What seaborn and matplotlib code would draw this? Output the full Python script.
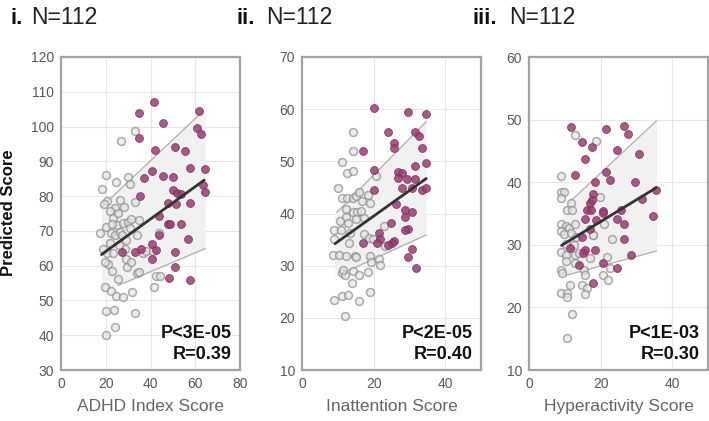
import numpy as np
import pandas as pd
import matplotlib
matplotlib.use("Agg")
import matplotlib.pyplot as plt
import seaborn as sns

sns.set_theme(style="white")
plt.rcParams['font.family'] = ['Liberation Sans', 'DejaVu Sans']

# ---------------- data ----------------
# Panel i: ADHD Index Score
p1_gray_x = [32.9, 27.0, 19.9, 18.5, 24.7, 29.9, 30.9, 20.6, 24.0, 26.5, 28.1, 21.7, 17.3, 20.0, 23.4,
             24.9, 27.6, 29.9, 30.7, 22.5, 24.0, 26.2, 27.4, 21.8, 28.4, 33.9, 34.8, 32.9, 20.6, 21.0,
             23.0, 25.6, 29.6, 28.9, 31.4, 19.6, 22.2, 24.7, 27.7, 31.7, 19.9, 23.7, 32.9, 19.9, 24.0,
             36.6, 38.0, 41.0, 34.0, 34.8, 41.4, 42.5, 44.1, 43.6, 18.8, 19.3, 25.5, 31.4, 23.3, 19.6,
             26.0, 29.0, 22.8]
p1_gray_y = [98.7, 95.9, 86.2, 82.0, 84.1, 85.5, 83.5, 78.6, 76.7, 79.0, 76.9, 75.7, 69.5, 71.2, 73.6,
             71.6, 72.3, 72.6, 70.7, 69.4, 68.8, 69.8, 68.7, 66.5, 64.7, 68.7, 73.1, 78.4, 63.5, 60.6,
             58.6, 56.3, 59.6, 62.0, 61.0, 53.8, 52.8, 51.4, 50.9, 52.4, 47.1, 47.3, 46.3, 40.1, 42.3,
             63.6, 64.1, 64.1, 57.8, 58.3, 54.0, 56.9, 57.0, 69.5, 64.7, 77.7, 75.1, 73.3, 63.5, 61.1,
             66.0, 67.5, 72.0]
p1_purple_x = [34.8, 41.5, 45.5, 34.8, 61.8, 60.6, 62.7, 51.0, 55.6, 41.8, 36.9, 40.7, 45.5, 50.1, 57.6,
               64.4, 35.4, 50.1, 52.0, 53.6, 57.8, 63.6, 64.4, 47.7, 51.3, 43.9, 47.7, 48.7, 53.6, 56.6,
               43.7, 40.7, 27.1, 32.9, 35.6, 42.5, 40.7, 51.0, 51.0, 48.4, 57.6]
p1_purple_y = [103.8, 107.2, 101.0, 96.8, 104.6, 99.7, 97.8, 94.2, 93.0, 93.3, 85.3, 87.2, 85.8, 85.6, 88.2,
               87.7, 80.1, 81.8, 80.9, 80.5, 77.9, 83.1, 81.3, 78.1, 77.7, 74.4, 71.9, 71.9, 71.9, 67.8,
               68.7, 66.3, 63.9, 63.8, 64.9, 64.6, 62.0, 63.8, 59.6, 56.5, 55.8]
p1_fit_x = [18.1, 64.0]
p1_fit_y = [63.2, 84.6]
p1_up_x = [18.1, 62.5]
p1_up_y = [76.9, 103.8]
p1_lo_x = [25.5, 64.4]
p1_lo_y = [54.3, 64.9]

# Panel ii: Inattention Score
p2_gray_x = [14.3, 14.3, 11.2, 12.6, 14.3, 20.7, 10.1, 11.3, 12.6, 14.3, 15.2, 15.9, 16.8, 18.4, 18.9,
             12.2, 12.2, 14.3, 15.4, 16.5, 10.6, 12.9, 15.2, 17.2, 9.0, 11.0, 13.3, 17.2, 18.8, 8.9,
             13.1, 19.8, 22.8, 23.1, 8.7, 10.4, 12.4, 14.7, 15.2, 19.1, 19.3, 21.6, 21.8, 11.2, 12.0,
             11.5, 14.3, 15.9, 18.4, 14.1, 19.0, 9.0, 11.2, 12.9, 15.9, 12.0]
p2_gray_y = [55.7, 52.0, 49.9, 47.7, 48.2, 47.1, 44.8, 43.0, 43.0, 43.0, 43.4, 44.1, 42.4, 43.5, 42.0,
             40.8, 39.4, 40.3, 40.2, 40.5, 38.6, 38.2, 38.9, 39.2, 36.9, 36.9, 36.3, 36.0, 35.3, 35.1,
             34.3, 35.1, 37.6, 33.7, 32.1, 32.1, 31.9, 31.8, 31.7, 31.8, 30.7, 31.2, 30.1, 28.6, 28.3,
             29.1, 28.9, 28.3, 28.7, 26.7, 24.9, 23.5, 24.1, 24.4, 23.2, 20.4]
p2_purple_x = [20.0, 29.7, 34.7, 23.9, 31.7, 32.6, 25.7, 25.8, 33.6, 17.0, 20.0, 31.7, 34.7, 26.8, 28.0,
               26.7, 29.4, 31.7, 27.8, 30.6, 33.6, 34.7, 20.0, 26.2, 28.8, 30.6, 28.8, 24.8, 29.6, 28.7,
               17.0, 21.6, 21.8, 20.9, 25.8, 25.1, 23.9, 30.6, 29.7, 31.9]
p2_purple_y = [60.2, 59.4, 59.0, 55.6, 55.7, 54.8, 53.6, 52.5, 52.5, 52.0, 48.3, 49.1, 49.7, 47.9, 47.7,
               46.9, 46.7, 46.6, 44.8, 44.8, 44.5, 44.8, 44.5, 41.9, 40.7, 40.3, 39.4, 38.2, 37.1, 36.8,
               34.3, 36.3, 35.1, 34.3, 34.7, 34.4, 33.9, 33.1, 31.6, 29.6]
p2_fit_x = [9.2, 34.7]
p2_fit_y = [34.2, 46.7]
p2_up_x = [9.7, 34.7]
p2_up_y = [40.2, 57.6]
p2_lo_x = [11.5, 34.7]
p2_lo_y = [28.6, 35.9]

# Panel iii: Hyperactivity Score
p3_gray_x = [12.8, 18.7, 9.0, 8.8, 9.7, 9.0, 11.6, 10.5, 11.9, 19.7, 9.0, 10.2, 11.1, 12.8, 8.8,
             9.7, 11.6, 13.0, 17.8, 21.0, 10.2, 12.5, 8.8, 10.4, 12.8, 13.9, 16.9, 10.2, 12.8, 15.3,
             8.8, 9.3, 15.7, 23.1, 21.9, 20.6, 22.0, 22.6, 11.4, 14.8, 16.2, 8.8, 10.6, 10.6, 15.7,
             11.9, 10.6, 18.0]
p3_gray_y = [47.5, 46.6, 41.0, 38.4, 38.4, 37.5, 36.6, 35.6, 35.6, 37.7, 33.3, 33.0, 32.7, 33.3, 32.2,
             31.7, 31.9, 31.3, 31.5, 33.4, 30.2, 29.9, 28.8, 28.4, 28.4, 28.7, 27.9, 27.4, 27.1, 26.0,
             25.9, 25.5, 25.2, 30.9, 28.1, 25.2, 24.4, 26.3, 23.6, 23.6, 23.1, 22.3, 22.3, 21.7, 22.2,
             19.0, 15.1, 31.5]
p3_purple_x = [11.8, 21.5, 26.5, 27.6, 14.8, 17.6, 24.7, 30.7, 15.7, 12.9, 21.6, 22.7, 18.5, 29.6, 31.5,
               35.5, 17.8, 16.9, 17.6, 16.2, 17.4, 20.7, 20.8, 25.6, 15.7, 18.8, 24.7, 26.5, 34.7, 16.9,
               14.8, 11.4, 15.7, 15.0, 18.5, 26.5, 28.4, 13.9, 20.6, 24.7, 17.8]
p3_purple_y = [48.8, 48.5, 48.9, 47.7, 46.5, 45.6, 45.2, 44.5, 43.7, 41.2, 41.7, 40.3, 40.1, 40.1, 37.3,
               38.8, 38.1, 36.7, 37.2, 35.5, 35.5, 35.4, 35.1, 35.6, 34.2, 34.0, 34.1, 33.3, 34.6, 32.5,
               31.3, 29.5, 29.1, 28.7, 29.1, 30.9, 28.3, 26.8, 27.1, 26.3, 23.9]
p3_fit_x = [9.1, 35.5]
p3_fit_y = [29.9, 39.1]
p3_up_x = [11.1, 35.6]
p3_up_y = [36.7, 49.8]
p3_lo_x = [10.2, 35.6]
p3_lo_y = [25.1, 29.0]

roman = ["i.", "ii.", "iii."]
n_labels = ["N=112", "N=112", "N=112"]
xlabels = ["ADHD Index Score", "Inattention Score", "Hyperactivity Score"]
p_texts = ["P<3E-05", "P<2E-05", "P<1E-03"]
r_texts = ["R=0.39", "R=0.40", "R=0.30"]
xlims = [(0, 80), (0, 50), (0, 50)]
xticks = [[0, 20, 40, 60, 80], [0, 20, 40], [0, 20, 40]]
ylims = [(30, 120), (10, 70), (10, 60)]

panels = [
    (p1_gray_x, p1_gray_y, p1_purple_x, p1_purple_y, p1_fit_x, p1_fit_y, p1_up_x, p1_up_y, p1_lo_x, p1_lo_y),
    (p2_gray_x, p2_gray_y, p2_purple_x, p2_purple_y, p2_fit_x, p2_fit_y, p2_up_x, p2_up_y, p2_lo_x, p2_lo_y),
    (p3_gray_x, p3_gray_y, p3_purple_x, p3_purple_y, p3_fit_x, p3_fit_y, p3_up_x, p3_up_y, p3_lo_x, p3_lo_y),
]

W, H = 709, 421
fig = plt.figure(figsize=(W / 100, H / 100), dpi=100)

ax_left_px = [61, 302, 529]
ax_w_px = 179
ax_top_px, ax_bot_px = 57, 370
title_bold_x = [10, 236, 472]
title_norm_x = [31, 266, 509]

PURPLE = "#9c3c72"
PURPLE_EDGE = "#7c2a58"
GRAY_EDGE = "#8c8c8c"
GRAY_FILL = "#e4e4e4"
SPINE = "#a3a3a3"
TICKC = "#5a5a5a"

for i, (gx, gy, px, py, fx, fy, ux, uy, lx, ly) in enumerate(panels):
    ax = fig.add_axes([ax_left_px[i] / W, 1 - ax_bot_px / H, ax_w_px / W, (ax_bot_px - ax_top_px) / H])
    ax.set_xlim(*xlims[i])
    ax.set_ylim(*ylims[i])
    ax.set_xticks(xticks[i])
    ax.set_yticks(np.arange(ylims[i][0], ylims[i][1] + 1, 10))
    ax.grid(True, color="#e6e6e6", linewidth=0.8)
    ax.set_axisbelow(True)

    # shaded band between upper and lower interval lines
    xs = np.linspace(min(ux[0], lx[0], fx[0]), max(ux[1], lx[1], fx[1]), 50)
    up_slope = (uy[1] - uy[0]) / (ux[1] - ux[0])
    up = uy[0] + up_slope * (xs - ux[0])
    up = np.minimum(up, uy[1])
    lo_slope = (ly[1] - ly[0]) / (lx[1] - lx[0])
    lo = ly[0] + lo_slope * (xs - lx[0])
    ax.fill_between(xs, lo, up, color="#f1f1f1", zorder=1, linewidth=0)

    sns.lineplot(x=ux, y=uy, ax=ax, color="#b4b4b4", linewidth=1.0, zorder=2)
    sns.lineplot(x=lx, y=ly, ax=ax, color="#b4b4b4", linewidth=1.0, zorder=2)

    sns.scatterplot(x=gx, y=gy, ax=ax, s=32, color=GRAY_FILL, edgecolor=GRAY_EDGE,
                    linewidth=1.1, alpha=0.7, zorder=3)
    sns.scatterplot(x=px, y=py, ax=ax, s=32, color=PURPLE, edgecolor=PURPLE_EDGE,
                    linewidth=0.6, alpha=0.85, zorder=4)

    sns.lineplot(x=fx, y=fy, ax=ax, color="#333333", linewidth=2.0, zorder=5)

    for sp in ax.spines.values():
        sp.set_visible(True)
        sp.set_color(SPINE)
        sp.set_linewidth(1.6)
    ax.tick_params(length=0, labelsize=10, labelcolor=TICKC, pad=5)
    ax.set_xlabel(xlabels[i], fontsize=12.5, color="#666666", labelpad=6)
    ax.set_ylabel("")

    ax.text(0.955, 0.118, p_texts[i], transform=ax.transAxes, ha="right", va="center",
            fontsize=13, fontweight="bold", color="#111111", zorder=6)
    ax.text(0.955, 0.048, r_texts[i], transform=ax.transAxes, ha="right", va="center",
            fontsize=13, fontweight="bold", color="#111111", zorder=6)

    fig.text(title_bold_x[i] / W, 1 - 18 / H, roman[i], fontsize=16, fontweight="bold",
             ha="left", va="center", color="#111111")
    fig.text(title_norm_x[i] / W, 1 - 18 / H, n_labels[i], fontsize=16.5,
             ha="left", va="center", color="#222222")

fig.text(1 / W, 1 - 213 / H, "Predicted Score", rotation=90, ha="left", va="center",
         fontsize=12, fontweight="bold", color="#111111")

fig.savefig("out.png", dpi=100)
